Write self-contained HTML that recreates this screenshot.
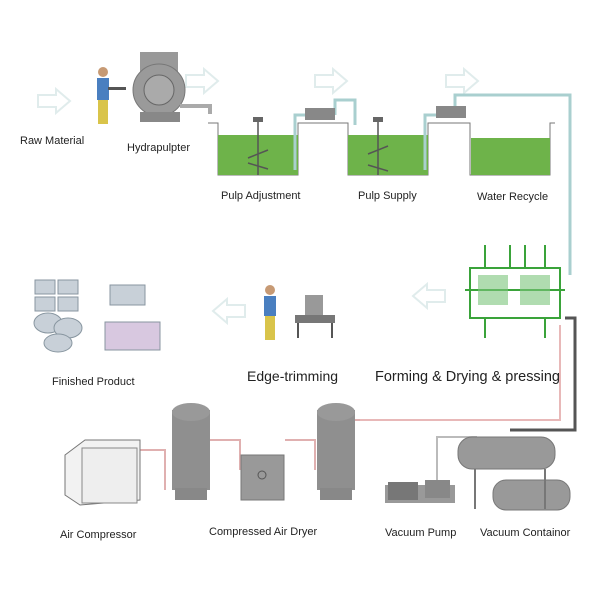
<!DOCTYPE html>
<html><head><meta charset="utf-8"><style>
html,body{margin:0;padding:0;background:#fff}
svg{display:block}
text{font-family:"Liberation Sans",Arial,sans-serif;fill:#222}
</style></head><body>
<svg width="600" height="600" viewBox="0 0 600 600" xmlns="http://www.w3.org/2000/svg">
<rect width="600" height="600" fill="#fff"/>
<g fill="none" stroke="#e0ecec" stroke-width="2">
<path d="M38 95h18v-6l14 12-14 12v-6h-18z"/>
<path d="M186 75h18v-6l14 12-14 12v-6h-18z"/>
<path d="M315 75h18v-6l14 12-14 12v-6h-18z"/>
<path d="M446 75h18v-6l14 12-14 12v-6h-18z"/>
<path d="M445 290h-18v-6l-14 12 14 12v-6h18z"/>
<path d="M245 305h-18v-6l-14 12 14 12v-6h18z"/>
</g>
<circle cx="103" cy="72" r="5" fill="#c79a74"/>
<rect x="97" y="78" width="12" height="22" fill="#4a7fc0"/>
<rect x="98" y="100" width="10" height="24" fill="#d9c44a"/>
<rect x="108" y="87" width="18" height="3" fill="#555"/>
<rect x="140" y="52" width="38" height="22" fill="#999"/>
<circle cx="159" cy="90" r="26" fill="#9a9a9a" stroke="#777"/>
<circle cx="159" cy="90" r="15" fill="#aaa" stroke="#666"/>
<rect x="140" y="112" width="40" height="10" fill="#888"/>
<path d="M180 106h30v8" fill="none" stroke="#aaa" stroke-width="4"/>
<text x="20" y="144" font-size="11">Raw Material</text>
<text x="127" y="151" font-size="11">Hydrapulpter</text>
<g stroke="#777" stroke-width="1" fill="none">
<path d="M208 123h10v52h80v-52h50v52h80v-52h42v52h80v-52h5"/>
</g>
<rect x="218" y="135" width="80" height="40" fill="#6eb34a"/>
<rect x="348" y="135" width="80" height="40" fill="#6eb34a"/>
<rect x="471" y="138" width="79" height="37" fill="#6eb34a"/>
<g stroke="#555" stroke-width="1.5" fill="none">
<path d="M258 122v53M378 122v53M248 158l20-8M248 163l20 6M368 154l20-8M368 165l20 6"/>
</g>
<rect x="253" y="117" width="10" height="5" fill="#666"/><rect x="373" y="117" width="10" height="5" fill="#666"/>
<path d="M295 170v-55h12M335 115v-15h20v25M425 170v-55h12M455 112v-17h115v180" fill="none" stroke="#a9cfcf" stroke-width="3"/>
<rect x="305" y="108" width="30" height="12" fill="#888"/><rect x="436" y="106" width="30" height="12" fill="#888"/>
<text x="221" y="199" font-size="11">Pulp Adjustment</text>
<text x="358" y="199" font-size="11">Pulp Supply</text>
<text x="477" y="200" font-size="11">Water Recycle</text>
<g stroke="#3aa33a" stroke-width="2" fill="none">
<rect x="470" y="268" width="90" height="50"/>
<path d="M485 245v23M510 245v23M525 245v23M545 245v23M465 290h100M485 318v20M545 318v20"/>
</g>
<rect x="478" y="275" width="30" height="30" fill="#7cc47c" opacity=".6"/>
<rect x="520" y="275" width="30" height="30" fill="#7cc47c" opacity=".6"/>
<path d="M560 325v95h-205" fill="none" stroke="#e8b8b8" stroke-width="2"/>
<path d="M565 318h10v112h-65" fill="none" stroke="#555" stroke-width="3"/>
<text x="375" y="381" font-size="14.5" textLength="185">Forming &amp; Drying &amp; pressing</text>
<circle cx="270" cy="290" r="5" fill="#c79a74"/>
<rect x="264" y="296" width="12" height="20" fill="#4a7fc0"/>
<rect x="265" y="316" width="10" height="24" fill="#d9c44a"/>
<rect x="295" y="315" width="40" height="8" fill="#777"/><rect x="305" y="295" width="18" height="20" fill="#999"/>
<path d="M298 323v15M332 323v15" stroke="#555" stroke-width="2"/>
<text x="247" y="381" font-size="14">Edge-trimming</text>
<g fill="#c8d0d8" stroke="#8896a0">
<rect x="35" y="280" width="20" height="14"/><rect x="58" y="280" width="20" height="14"/>
<rect x="35" y="297" width="20" height="14"/><rect x="58" y="297" width="20" height="14"/>
<ellipse cx="48" cy="323" rx="14" ry="10"/><ellipse cx="68" cy="328" rx="14" ry="10"/>
<ellipse cx="58" cy="343" rx="14" ry="9"/>
<rect x="110" y="285" width="35" height="20"/>
<rect x="105" y="322" width="55" height="28" fill="#d8c8e0"/>
</g>
<text x="52" y="385" font-size="11">Finished Product</text>
<path d="M140 450h25v40M210 440h30v30M285 440h30v30M355 420h5" fill="none" stroke="#e0b0b0" stroke-width="2"/>
<polygon points="65,455 85,440 140,440 140,500 80,505 65,495" fill="#f2f2f2" stroke="#777"/>
<rect x="82" y="448" width="55" height="55" fill="#eee" stroke="#888"/>
<rect x="172" y="410" width="38" height="80" fill="#8f8f8f"/>
<ellipse cx="191" cy="412" rx="19" ry="9" fill="#999"/>
<rect x="175" y="488" width="32" height="12" fill="#888"/>
<rect x="241" y="455" width="43" height="45" fill="#999" stroke="#777"/>
<circle cx="262" cy="475" r="4" fill="none" stroke="#555"/>
<rect x="317" y="410" width="38" height="80" fill="#8f8f8f"/>
<ellipse cx="336" cy="412" rx="19" ry="9" fill="#999"/>
<rect x="320" y="488" width="32" height="12" fill="#888"/>
<rect x="385" y="485" width="70" height="18" fill="#999"/>
<rect x="388" y="482" width="30" height="18" fill="#777"/>
<rect x="425" y="480" width="25" height="18" fill="#888"/>
<path d="M437 480v-43h40" fill="none" stroke="#bbb" stroke-width="2"/>
<rect x="458" y="437" width="97" height="32" rx="14" fill="#999" stroke="#777"/>
<rect x="493" y="480" width="77" height="30" rx="13" fill="#999" stroke="#777"/>
<path d="M475 469v40M545 469v40" stroke="#777" stroke-width="2"/>
<text x="60" y="538" font-size="11">Air Compressor</text>
<text x="209" y="535" font-size="11">Compressed Air Dryer</text>
<text x="385" y="536" font-size="11">Vacuum Pump</text>
<text x="480" y="536" font-size="11">Vacuum Containor</text>
</svg>
</body></html>
